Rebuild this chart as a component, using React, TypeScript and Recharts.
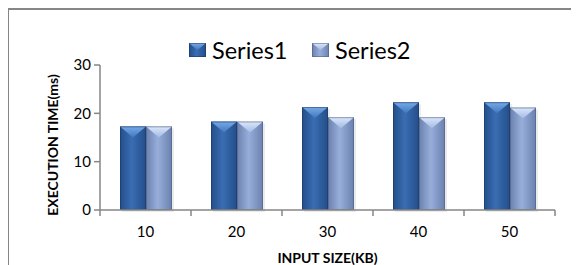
import React from 'react';
import { BarChart, Bar, XAxis, YAxis, Legend } from 'recharts';

const categories = ['10', '20', '30', '40', '50'];
const series1 = [17.3, 18.3, 21.3, 22.3, 22.3];
const series2 = [17.3, 18.3, 19.2, 19.2, 21.2];
const seriesNames = ['Series1', 'Series2'];
const yTicks = [0, 10, 20, 30];
const xTitle = 'INPUT SIZE(KB)';
const yTitle = 'EXECUTION TIME(ms)';

const data = categories.map((c, i) => ({ cat: c, s1: series1[i], s2: series2[i] }));

const FONT = 'Lato, "Open Sans", sans-serif';
const AXIS = '#868686';

type Pal = { edge: string; mid: string; topLight: string; topDark: string; stroke: string };
const palettes: Record<string, Pal> = {
  s1: { edge: '#234E8A', mid: '#3A6DB2', topLight: '#78AAE6', topDark: '#3F79C2', stroke: '#1B3358' },
  s2: { edge: '#6A80AE', mid: '#98AEDA', topLight: '#DCE8FA', topDark: '#A3BAE3', stroke: '#4A5878' },
};

function Grad({ id, p }: { id: string; p: Pal }) {
  return (
    <defs>
      <linearGradient id={`body-${id}`} x1="0" y1="0" x2="1" y2="0">
        <stop offset="0" stopColor={p.edge} />
        <stop offset="0.45" stopColor={p.mid} />
        <stop offset="1" stopColor={p.edge} />
      </linearGradient>
      <linearGradient id={`top-${id}`} x1="0" y1="0" x2="0" y2="1">
        <stop offset="0" stopColor={p.topLight} />
        <stop offset="1" stopColor={p.topDark} />
      </linearGradient>
    </defs>
  );
}

function makeShape(key: string) {
  return (props: any) => {
    const { x, y, width: w, height: h, index } = props;
    if (!h || h <= 0) return null;
    const p = palettes[key];
    const id = `${key}-${index}`;
    const bevel = Math.min(11, h / 2);
    return (
      <g>
        <Grad id={id} p={p} />
        <rect x={x + 2} y={y + 2} width={w} height={h} fill="#000" opacity={0.08} />
        <rect x={x} y={y} width={w} height={h} fill={`url(#body-${id})`} />
        <polygon points={`${x},${y} ${x + w},${y} ${x + w / 2},${y + bevel}`} fill={`url(#top-${id})`} />
        <rect x={x + 0.5} y={y + 0.5} width={w - 1} height={h - 1} fill="none" stroke={p.stroke} strokeOpacity={0.5} strokeWidth={1} />
      </g>
    );
  };
}

function LegendIcon({ k }: { k: string }) {
  const p = palettes[k];
  const id = `leg-${k}`;
  return (
    <svg width={17} height={14} style={{ display: 'block' }}>
      <Grad id={id} p={p} />
      <rect x={0} y={0} width={17} height={14} fill={`url(#body-${id})`} />
      <polygon points="0,0 17,0 8.5,7" fill={`url(#top-${id})`} />
      <rect x={0.5} y={0.5} width={16} height={13} fill="none" stroke={p.stroke} strokeOpacity={0.5} />
    </svg>
  );
}

const renderLegend = (props: any) => {
  const payload = props.payload || [];
  const keys = ['s1', 's2'];
  return (
    <div style={{ position: 'relative', width: 571, height: 30, fontFamily: FONT, fontSize: 23.5, color: '#000' }}>
      {payload.map((entry: any, i: number) => (
        <div key={i} style={{ position: 'absolute', left: 181 + i * 123, top: 0, height: 30, display: 'flex', alignItems: 'center' }}>
          <div style={{ marginRight: 6 }}>
            <LegendIcon k={keys[i]} />
          </div>
          <span style={{ lineHeight: '30px' }}>{entry.value}</span>
        </div>
      ))}
    </div>
  );
};

const XTick = (props: any) => {
  const { x, y, payload, index, visibleTicksCount } = props;
  const half = payload && payload.offset != null ? payload.offset : 45.5;
  const last = index === visibleTicksCount - 1;
  return (
    <g>
      <line x1={x - half} x2={x - half} y1={y} y2={y + 6} stroke={AXIS} strokeWidth={1.5} />
      {last && <line x1={x + half} x2={x + half} y1={y} y2={y + 6} stroke={AXIS} strokeWidth={1.5} />}
      <text x={x} y={y + 21} textAnchor="middle" dominantBaseline="central" fontFamily={FONT} fontSize={15} fill="#000">
        {payload.value}
      </text>
    </g>
  );
};

const YTitle = (props: any) => {
  const vb = props.viewBox || { x: 0, y: 0, width: 92, height: 144 };
  const cx = vb.x + 44;
  const cy = vb.y + vb.height / 2 + 7.5;
  return (
    <text x={cx} y={cy} transform={`rotate(-90, ${cx}, ${cy})`} textAnchor="middle" dominantBaseline="central" fontFamily={FONT} fontWeight="bold" fontSize={14} fill="#000">
      {yTitle}
    </text>
  );
};

const XTitle = (props: any) => {
  const vb = props.viewBox || { x: 92, y: 202, width: 455, height: 55 };
  const cx = vb.x + vb.width / 2;
  const cy = vb.y + 47;
  return (
    <text x={cx} y={cy} textAnchor="middle" dominantBaseline="central" fontFamily={FONT} fontWeight="bold" fontSize={14} fill="#000">
      {xTitle}
    </text>
  );
};

export default function App() {
  return (
    <div style={{ position: 'relative', marginLeft: -1, width: 572, height: 257, overflow: 'hidden' }}>
      <div style={{ position: 'absolute', left: 0, top: 0, width: 564, height: 300, border: `2px solid ${AXIS}` }} />
      <div style={{ position: 'absolute', left: 1, top: 0 }}>
        <BarChart width={571} height={257} data={data} margin={{ top: 27, right: 24, bottom: 0, left: 0 }} barGap={0} barSize={26}>
          <Legend verticalAlign="top" content={renderLegend} wrapperStyle={{ left: 0, width: 571, height: 30 }} />
          <XAxis dataKey="cat" height={55} tickLine={false} tickSize={0} tickMargin={0} axisLine={{ stroke: AXIS, strokeWidth: 1.5 }} tick={<XTick />} interval={0} label={{ content: <XTitle /> }} />
          <YAxis width={92} domain={[0, 30]} ticks={yTicks} tickSize={6} tickMargin={3} axisLine={{ stroke: AXIS, strokeWidth: 1.5 }} tickLine={{ stroke: AXIS, strokeWidth: 1.5 }} tick={{ fill: '#000', fontSize: 15, fontFamily: FONT }} label={{ content: <YTitle /> }} />
          <Bar dataKey="s1" name={seriesNames[0]} fill={palettes.s1.mid} shape={makeShape('s1')} isAnimationActive={false} />
          <Bar dataKey="s2" name={seriesNames[1]} fill={palettes.s2.mid} shape={makeShape('s2')} isAnimationActive={false} />
        </BarChart>
      </div>
    </div>
  );
}
